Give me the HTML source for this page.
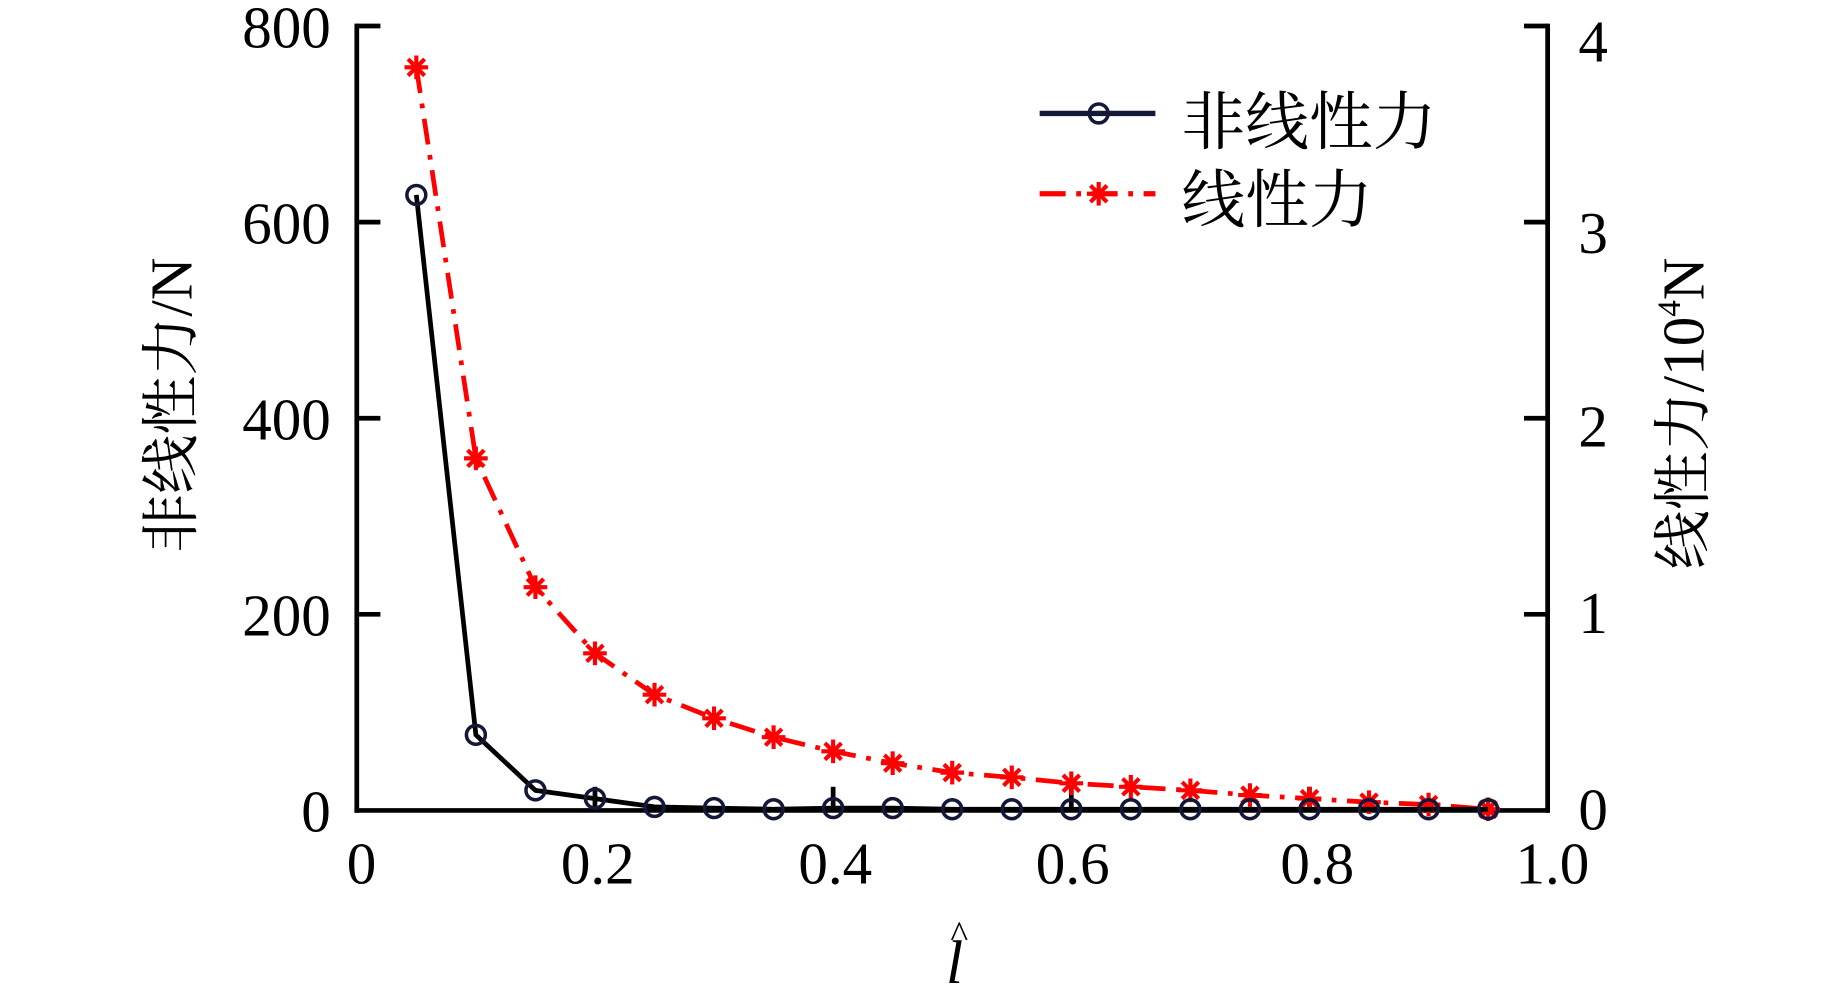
<!DOCTYPE html>
<html><head><meta charset="utf-8"><style>html,body{margin:0;padding:0;background:#fff;}svg{display:block}</style></head>
<body>
<svg width="1843" height="990" viewBox="0 0 1560 838" preserveAspectRatio="none" xmlns="http://www.w3.org/2000/svg" font-family="'Liberation Serif','Noto Serif CJK SC',serif">
<defs>
<g id="c"><circle r="8" fill="none" stroke="#141838" stroke-width="3"/></g>
<g id="s" stroke="#f00" stroke-width="3.5"><line x1="-10" y1="0" x2="10" y2="0"/><line x1="0" y1="-10" x2="0" y2="10"/><line x1="-7" y1="-7" x2="7" y2="7"/><line x1="-7" y1="7" x2="7" y2="-7"/></g>
</defs>
<g stroke="#000" stroke-width="4" fill="none">
<line x1="302" y1="20" x2="302" y2="688"/>
<line x1="1310" y1="20" x2="1310" y2="688"/>
<line x1="300" y1="686" x2="1312" y2="686"/>
<line x1="302" y1="22" x2="322" y2="22"/><line x1="302" y1="188" x2="322" y2="188"/><line x1="302" y1="354" x2="322" y2="354"/><line x1="302" y1="520" x2="322" y2="520"/>
<line x1="1290" y1="22" x2="1310" y2="22"/><line x1="1290" y1="188" x2="1310" y2="188"/><line x1="1290" y1="354" x2="1310" y2="354"/><line x1="1290" y1="520" x2="1310" y2="520"/>
<line x1="503.6" y1="666" x2="503.6" y2="686"/><line x1="705.2" y1="666" x2="705.2" y2="686"/><line x1="906.8" y1="666" x2="906.8" y2="686"/><line x1="1108.4" y1="666" x2="1108.4" y2="686"/>
</g>
<polyline fill="none" stroke="#f00" stroke-width="4" stroke-dasharray="22,9,4,9" points="352.4,57 402.8,388 453.2,497 503.6,553 554,588 604.4,608 654.8,624 705.2,636 755.6,646 806,654 856.4,658 906.8,663 957.2,666 1007.6,669 1058,673 1108.4,676 1158.8,679 1209.2,681 1259.6,685"/>
<g>
<use href="#s" x="352.4" y="57"/><use href="#s" x="402.8" y="388"/><use href="#s" x="453.2" y="497"/><use href="#s" x="503.6" y="553"/><use href="#s" x="554" y="588"/><use href="#s" x="604.4" y="608"/><use href="#s" x="654.8" y="624"/><use href="#s" x="705.2" y="636"/><use href="#s" x="755.6" y="646"/><use href="#s" x="806" y="654"/><use href="#s" x="856.4" y="658"/><use href="#s" x="906.8" y="663"/><use href="#s" x="957.2" y="666"/><use href="#s" x="1007.6" y="669"/><use href="#s" x="1058" y="673"/><use href="#s" x="1108.4" y="676"/><use href="#s" x="1158.8" y="679"/><use href="#s" x="1209.2" y="681"/><use href="#s" x="1259.6" y="685"/>
</g>
<polyline fill="none" stroke="#000" stroke-width="4" points="352.4,165 402.8,622 453.2,669 503.6,676 554,683 604.4,684 654.8,685 705.2,684 755.6,684 806,685 856.4,685 906.8,685 957.2,685 1007.6,685 1058,685 1108.4,685 1158.8,685 1209.2,685 1259.6,685"/>
<g>
<use href="#c" x="352.4" y="165"/><use href="#c" x="402.8" y="622"/><use href="#c" x="453.2" y="669"/><use href="#c" x="503.6" y="676"/><use href="#c" x="554" y="683"/><use href="#c" x="604.4" y="684"/><use href="#c" x="654.8" y="685"/><use href="#c" x="705.2" y="684"/><use href="#c" x="755.6" y="684"/><use href="#c" x="806" y="685"/><use href="#c" x="856.4" y="685"/><use href="#c" x="906.8" y="685"/><use href="#c" x="957.2" y="685"/><use href="#c" x="1007.6" y="685"/><use href="#c" x="1058" y="685"/><use href="#c" x="1108.4" y="685"/><use href="#c" x="1158.8" y="685"/><use href="#c" x="1209.2" y="685"/><use href="#c" x="1259.6" y="685"/>
</g>
<g font-size="50" fill="#000">
<g text-anchor="end">
<text x="280" y="40">800</text><text x="280" y="206">600</text><text x="280" y="372">400</text><text x="280" y="538">200</text><text x="280" y="704">0</text>
</g>
<g text-anchor="start">
<text x="1336" y="52">4</text><text x="1336" y="214">3</text><text x="1336" y="378">2</text><text x="1336" y="536">1</text><text x="1336" y="702">0</text>
</g>
<g text-anchor="middle">
<text x="306" y="748">0</text><text x="506" y="748">0.2</text><text x="707" y="748">0.4</text><text x="908" y="748">0.6</text><text x="1115" y="748">0.8</text><text x="1314" y="748">1.0</text>
</g>
</g>
<text transform="translate(162,343) rotate(-90)" text-anchor="middle" font-size="50">非线性力/N</text>
<text transform="translate(1442,350) rotate(-90)" text-anchor="middle" font-size="50">线性力/10<tspan font-size="28" dy="-20">4</tspan><tspan dy="20">N</tspan></text>
<text x="808" y="832" text-anchor="middle" font-size="52" font-style="italic">l</text>
<text x="812" y="802" text-anchor="middle" font-size="32">^</text>
<line x1="880" y1="96" x2="978" y2="96" stroke="#141838" stroke-width="4.5"/>
<use href="#c" x="930" y="96"/>
<text x="1000" y="122" font-size="54">非线性力</text>
<line x1="880" y1="164" x2="978" y2="164" stroke="#f00" stroke-width="4.5" stroke-dasharray="22,9,4,9"/>
<use href="#s" x="930" y="164"/>
<text x="1000" y="188" font-size="54">线性力</text>
</svg>
</body></html>
